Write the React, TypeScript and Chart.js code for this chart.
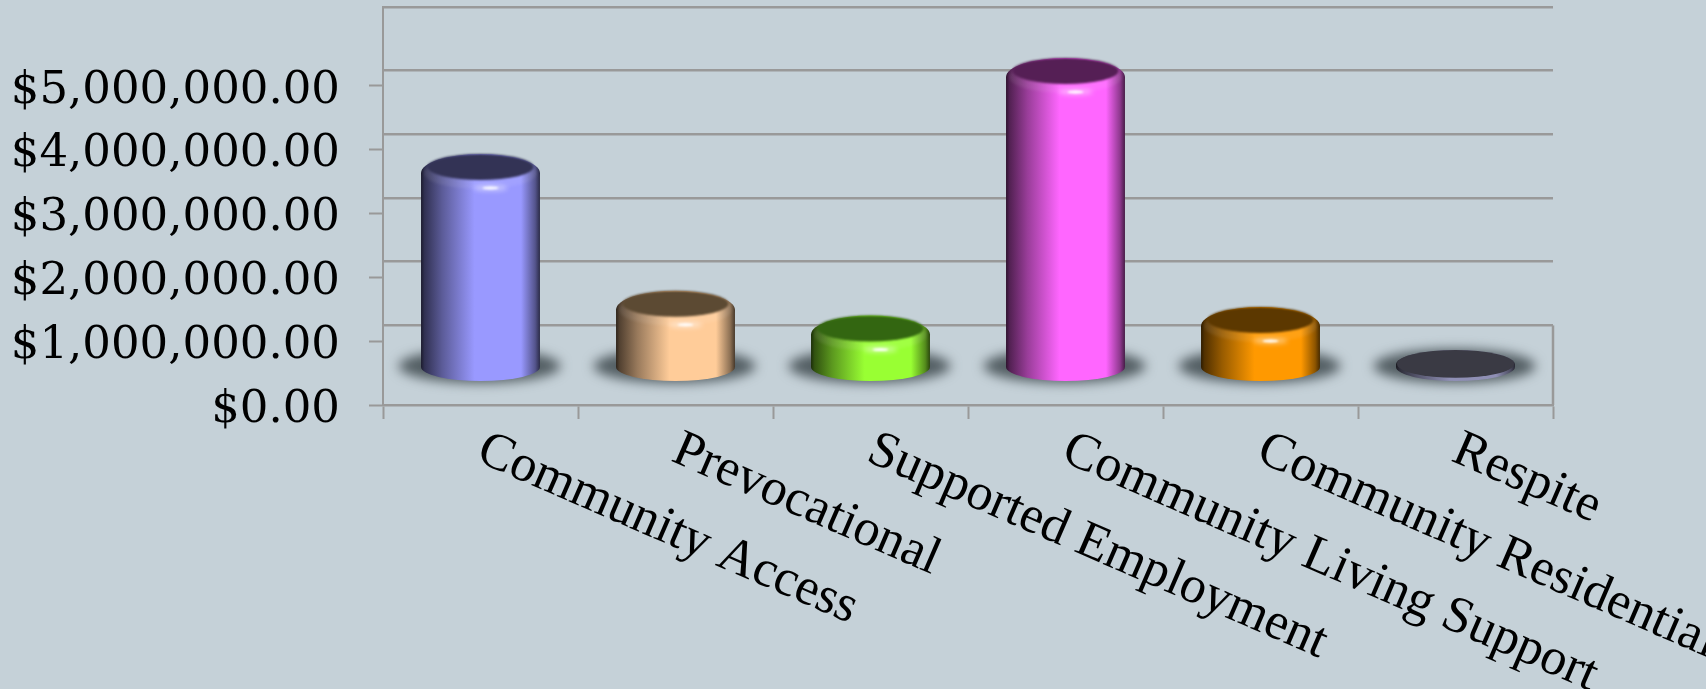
import React, { useEffect, useRef } from "react";
import { Chart, registerables } from "chart.js";

Chart.register(...registerables);

const categories = ["Community Access", "Prevocational", "Supported Employment", "Community Living Support", "Community Residential", "Respite"];
const values = [3050000, 900000, 510000, 4560000, 645000, 40000];
const bodyColors = ["#9999ff", "#ffcc99", "#99ff33", "#ff66ff", "#ff9900", "#8f8fb5"];
const capColors = ["#333355", "#5c4a33", "#336611", "#551f55", "#5c3800", "#3a3a44"];
const axisTicks = [0, 1000000, 2000000, 3000000, 4000000, 5000000];
const wallTicks = [1000000, 2000000, 3000000, 4000000, 5000000, 6000000];

const BG = "#c5d1d8";
const LINE = "#999999";

function shade(hex: string, k: number) {
  const n = parseInt(hex.slice(1), 16);
  const c = [(n >> 16) & 255, (n >> 8) & 255, n & 255].map((v) => Math.round(v * k));
  return `rgb(${c[0]},${c[1]},${c[2]})`;
}

function bodyGradient(ctx: CanvasRenderingContext2D, cx: number, w: number, color: string) {
  if (!Number.isFinite(cx) || !Number.isFinite(w) || w <= 0) return color;
  const g = ctx.createLinearGradient(cx - w / 2, 0, cx + w / 2, 0);
  g.addColorStop(0, shade(color, 0.18));
  g.addColorStop(0.03, shade(color, 0.32));
  g.addColorStop(0.18, shade(color, 0.6));
  g.addColorStop(0.45, color);
  g.addColorStop(0.84, color);
  g.addColorStop(0.96, shade(color, 0.55));
  g.addColorStop(1, shade(color, 0.28));
  return g;
}

const cylinderPlugin = {
  id: "cylinder",
  beforeDatasetsDraw(chart: any) {
    const { ctx } = chart;
    const meta = chart.getDatasetMeta(0);
    meta.data.forEach((bar: any, i: number) => {
      const rx = bar.width / 2;
      ctx.save();
      ctx.filter = "blur(6px)";
      ctx.fillStyle = "#525d62";
      ctx.beginPath();
      ctx.ellipse(bar.x - 1, bar.base - 1, rx * 1.36, 17, 0, 0, Math.PI * 2);
      ctx.fill();
      ctx.restore();
      ctx.save();
      ctx.fillStyle = bodyGradient(ctx, bar.x, bar.width, bodyColors[i]);
      ctx.beginPath();
      ctx.ellipse(bar.x, bar.base, rx, 14, 0, 0, Math.PI * 2);
      ctx.fill();
      ctx.restore();
    });
  },
  afterDatasetsDraw(chart: any) {
    const { ctx } = chart;
    const meta = chart.getDatasetMeta(0);
    meta.data.forEach((bar: any, i: number) => {
      const rx = bar.width / 2;
      const h = bar.base - bar.y;
      const k = Math.min(1, h / 30);
      ctx.save();
      ctx.fillStyle = bodyGradient(ctx, bar.x, bar.width, bodyColors[i]);
      ctx.beginPath();
      ctx.ellipse(bar.x, bar.y, rx, 14 + 5 * k, 0, 0, Math.PI * 2);
      ctx.fill();
      if (k === 1) {
        ctx.save();
        ctx.filter = "blur(1.5px)";
        ctx.fillStyle = "rgba(255,255,255,0.08)";
        ctx.beginPath();
        ctx.ellipse(bar.x, bar.y, rx - 3, 16, 0, 0, Math.PI * 2);
        ctx.fill();
        ctx.restore();
      }
      ctx.save();
      ctx.filter = k === 1 ? "blur(1.2px)" : "none";
      ctx.fillStyle = capColors[i];
      ctx.beginPath();
      ctx.ellipse(bar.x, bar.y - 6 * k, rx - 6 * k - 0.5, 14 - k, 0, 0, Math.PI * 2);
      ctx.fill();
      ctx.restore();
      if (k === 1) {
        ctx.save();
        ctx.filter = "blur(2.5px)";
        ctx.fillStyle = "rgba(255,255,255,0.45)";
        ctx.beginPath();
        ctx.ellipse(bar.x + 10, bar.y + 15, 17, 3, 0, 0, Math.PI * 2);
        ctx.fill();
        ctx.restore();
        ctx.filter = "blur(1px)";
        ctx.fillStyle = "rgba(255,255,255,0.95)";
        ctx.beginPath();
        ctx.ellipse(bar.x + 10, bar.y + 15, 8, 1.5, 0, 0, Math.PI * 2);
        ctx.fill();
      }
      ctx.restore();
    });
  },
};

const framePlugin = {
  id: "frame",
  beforeDatasetsDraw(chart: any) {
    const { ctx, chartArea, scales } = chart;
    ctx.save();
    ctx.strokeStyle = LINE;
    ctx.lineWidth = 2.5;
    ctx.beginPath();
    ctx.moveTo(chartArea.right, scales.yWall.getPixelForValue(wallTicks[0]));
    ctx.lineTo(chartArea.right, chartArea.bottom);
    ctx.stroke();
    ctx.restore();
  },
  afterDraw(chart: any) {
    const { ctx, scales } = chart;
    ctx.save();
    ctx.fillStyle = "#000000";
    ctx.font = "52px 'Liberation Serif'";
    ctx.textAlign = "left";
    ctx.textBaseline = "top";
    categories.forEach((label, i) => {
      ctx.save();
      ctx.translate(scales.x.getPixelForValue(i) + 10, 424);
      ctx.rotate((23.5 * Math.PI) / 180);
      ctx.fillText(label, 0, 0);
      ctx.restore();
    });
    ctx.restore();
  },
};

function formatMoney(v: number) {
  return "$" + v.toLocaleString("en-US", { minimumFractionDigits: 2, maximumFractionDigits: 2 });
}

export default function App() {
  const ref = useRef<HTMLCanvasElement>(null);
  useEffect(() => {
    const chart = new Chart(ref.current!, {
      type: "bar",
      data: {
        labels: categories,
        datasets: [
          {
            data: values,
            yAxisID: "yBars",
            barPercentage: 1,
            categoryPercentage: 0.61,
            backgroundColor: (c: any) => {
              const x = c.chart.scales.x;
              const color = bodyColors[c.dataIndex] || bodyColors[0];
              if (!x || c.dataIndex === undefined) return color;
              const w = (x.width / categories.length) * 0.61;
              return bodyGradient(c.chart.ctx, x.getPixelForValue(c.dataIndex), w, color);
            },
          },
        ],
      },
      options: {
        responsive: false,
        animation: false,
        layout: { padding: { top: 7, right: 153, bottom: 270, left: 0 } },
        plugins: { legend: { display: false }, tooltip: { enabled: false } },
        scales: {
          x: {
            grid: { drawOnChartArea: false, drawTicks: true, tickLength: 14, tickColor: LINE, tickWidth: 2, offset: true },
            border: { color: LINE, width: 2.5 },
            ticks: { display: false },
          },
          y: {
            position: "left",
            min: 0,
            max: 6238000,
            afterBuildTicks: (s: any) => {
              s.ticks = axisTicks.map((value) => ({ value }));
            },
            afterFit: (s: any) => {
              s.width = 383;
              s.paddingTop = 0;
              s.paddingBottom = 0;
            },
            grid: { drawOnChartArea: false, tickLength: 14, tickColor: LINE, tickWidth: 2 },
            border: { color: LINE, width: 2 },
            ticks: {
              padding: 29,
              labelOffset: 5,
              color: "#000000",
              font: { family: "'DejaVu Serif'", size: 45 },
              callback: (v: any) => formatMoney(Number(v)),
            },
          },
          yWall: {
            position: "left",
            min: -250000,
            max: 6000000,
            afterBuildTicks: (s: any) => {
              s.ticks = wallTicks.map((value) => ({ value }));
            },
            afterFit: (s: any) => {
              s.width = 0;
              s.paddingTop = 0;
              s.paddingBottom = 0;
            },
            grid: { drawTicks: false, tickLength: 0, color: LINE, lineWidth: 2.5 },
            border: { display: false },
            ticks: { display: false },
          },
          yBars: { display: false, min: -597500, max: 5660500 },
        },
      } as any,
      plugins: [framePlugin, cylinderPlugin],
    });
    return () => chart.destroy();
  }, []);
  return (
    <div style={{ position: "fixed", left: 0, top: 0, width: 1706, height: 689, background: BG, overflow: "hidden" }}>
      <canvas ref={ref} width={1706} height={689} style={{ display: "block" }} />
    </div>
  );
}
